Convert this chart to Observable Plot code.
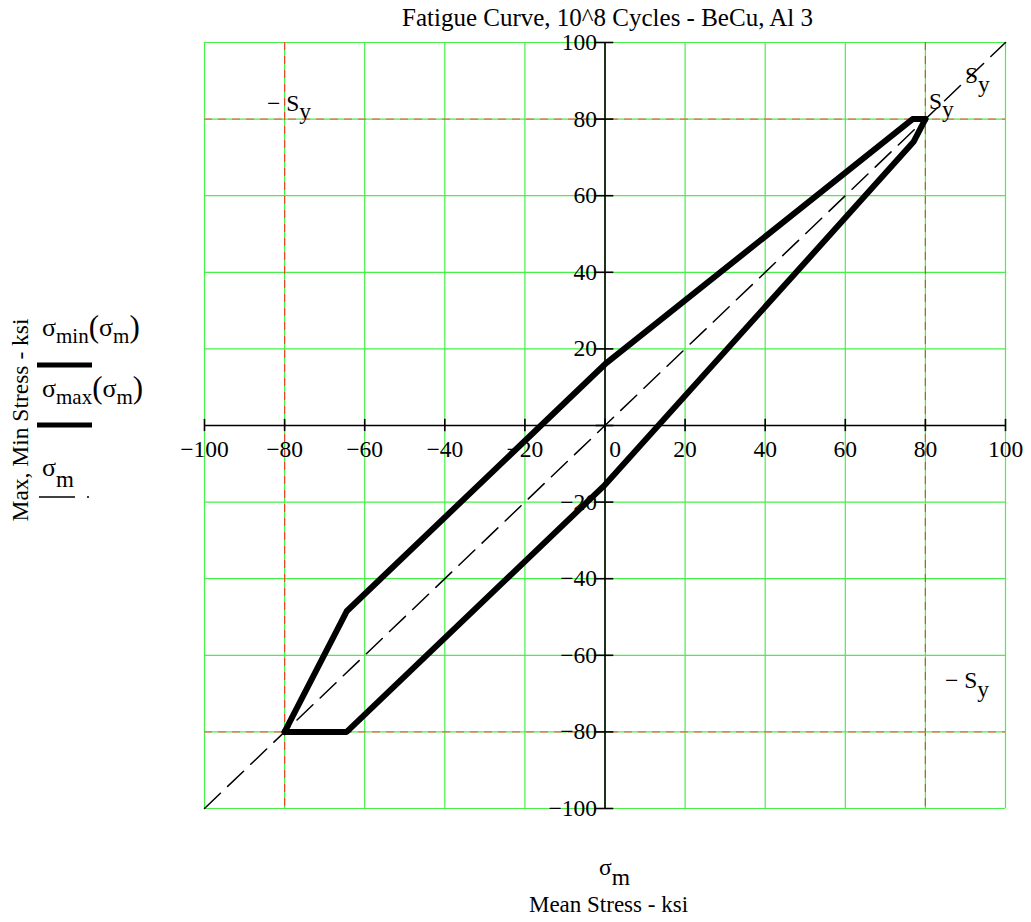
<!DOCTYPE html>
<html><head><meta charset="utf-8">
<script src="https://cdn.jsdelivr.net/npm/d3@7"></script>
<script src="https://cdn.jsdelivr.net/npm/@observablehq/plot@0.6"></script>
<style>
body{margin:0;background:#fff;}
#wrap{width:1031px;height:922px;}
</style></head><body><div id="wrap"></div>
<script>
// ---- data ----
const tickValues = [-100,-80,-60,-40,-20,0,20,40,60,80,100];
const yieldLines = [-80, 80];                 // ±Sy (ksi)
const meanMax   = [-80, -64.5, 0, 76.8, 80];   // σm for σmax curve
const sigmaMax  = [-80, -48.5, 16, 80, 80];    // σmax(σm)
const meanMin   = [-80, -64.5, 0, 77, 80];     // σm for σmin curve
const sigmaMin  = [-80, -80, -15.5, 74, 80];   // σmin(σm)
const diagVals  = [-100, 100];                 // σm reference line
const titleText = "Fatigue Curve, 10^8 Cycles - BeCu, Al 3";
const xLabel = "Mean Stress - ksi";
const yLabel = "Max, Min Stress - ksi";

const FONT = "Liberation Serif, Times New Roman, serif";
const fmt = d3.format("d");
const maxData = meanMax.map((m,i)=>({m, s:sigmaMax[i]}));
const minData = meanMin.map((m,i)=>({m, s:sigmaMin[i]}));
const diagData = diagVals.map(d=>({m:d, s:d}));

const plot = Plot.plot({
  width:1031, height:922,
  marginLeft:204, marginRight:26, marginTop:42, marginBottom:114,
  x:{domain:[-100,100], axis:null},
  y:{domain:[-100,100], axis:null},
  style:{fontFamily:FONT, fontSize:"23.5px", background:"white", color:"black", overflow:"visible"},
  marks:[
    Plot.ruleX(tickValues,{stroke:"#46f046", strokeWidth:1.2}),
    Plot.ruleY(tickValues,{stroke:"#46f046", strokeWidth:1.2}),
    Plot.ruleX(yieldLines,{stroke:"#e24a2a", strokeWidth:1.2, strokeDasharray:"8,6"}),
    Plot.ruleY(yieldLines,{stroke:"#ff5c5c", strokeWidth:1.2, strokeDasharray:"8,6"}),
    Plot.ruleY([0],{stroke:"black", strokeWidth:1.6}),
    Plot.ruleX([0],{stroke:"black", strokeWidth:1.6}),
    Plot.ruleX(tickValues,{x:d=>d, y1:-1.6, y2:1.6, stroke:"black", strokeWidth:1.6}),
    Plot.ruleY(tickValues,{y:d=>d, x1:-2.2, x2:2.2, stroke:"black", strokeWidth:1.6}),
    Plot.line(diagData,{x:"m", y:"s", stroke:"black", strokeWidth:1.5, strokeDasharray:"22,10"}),
    Plot.line(maxData,{x:"m", y:"s", stroke:"black", strokeWidth:6, strokeLinejoin:"round"}),
    Plot.line(minData,{x:"m", y:"s", stroke:"black", strokeWidth:6, strokeLinejoin:"round"}),
    Plot.text(tickValues.filter(d=>d!==0),{x:d=>d, y:0, dy:24, text:d=>fmt(d), fontSize:23.5}),
    Plot.text([0],{x:d=>d, y:0, dx:10, dy:24, text:d=>fmt(d), fontSize:23.5}),
    Plot.text(tickValues.filter(d=>d!==0),{x:0, y:d=>d, dx:-8, dy:0, textAnchor:"end", text:d=>fmt(d), fontSize:23.5})
  ]
});
document.getElementById("wrap").appendChild(plot);

const sx = plot.scale("x"), sy = plot.scale("y");
const svg = d3.select(plot);
const g = svg.append("g").attr("font-family", FONT).attr("font-size", 23.5).attr("fill","black");

// text with subscripts: parts = [[text, shift, size]]
function rich(x, y, parts, anchor="start") {
  const t = g.append("text").attr("x", x).attr("y", y).attr("text-anchor", anchor);
  let cur = 0;
  for (const [s, shift, size] of parts) {
    const ts = t.append("tspan").attr("dy", shift - cur).text(s);
    if (size) ts.attr("font-size", size);
    cur = shift;
  }
  return t;
}

// title
g.append("text").attr("x", sx.apply(0)+3).attr("y", 26).attr("text-anchor","middle").attr("font-size",25).text(titleText);
// x label
rich(sx.apply(0)+10, 875, [["σ",0],["m",10]], "middle");
g.append("text").attr("x", sx.apply(0)+4).attr("y", 912).attr("text-anchor","middle").attr("font-size",23).text(xLabel);
// y label
g.append("text").attr("transform","translate(28,420) rotate(-90)").attr("text-anchor","middle").attr("font-size",23.5).text(yLabel);

// Sy markers
rich(sx.apply(80)+4, sy.apply(80)-10, [["S",0],["y",8]]);
rich(sx.apply(-80)-17, sy.apply(80)-8, [["− S",0],["y",8]]);
rich(sx.apply(100)-40, sy.apply(80)-36, [["S",0],["y",9]]);
rich(sx.apply(100)-60, sy.apply(-80)-43, [["− S",0],["y",9]]);

// legend
rich(42, 336, [["σ",0,26],["min",7,21],["(",1,31],["σ",0,26],["m",7,21],[")",1,31]]);
g.append("line").attr("x1",37).attr("x2",92).attr("y1",365).attr("y2",365).attr("stroke","black").attr("stroke-width",5);
rich(42, 397, [["σ",0,26],["max",7,21],["(",1,31],["σ",0,26],["m",7,21],[")",1,31]]);
g.append("line").attr("x1",37).attr("x2",92).attr("y1",425).attr("y2",425).attr("stroke","black").attr("stroke-width",5);
rich(42, 476, [["σ",0,26],["m",11,23]]);
g.append("line").attr("x1",39).attr("x2",75).attr("y1",497).attr("y2",497).attr("stroke","black").attr("stroke-width",1.5);
g.append("line").attr("x1",87).attr("x2",89).attr("y1",497).attr("y2",497).attr("stroke","black").attr("stroke-width",1.5);
</script></body></html>
